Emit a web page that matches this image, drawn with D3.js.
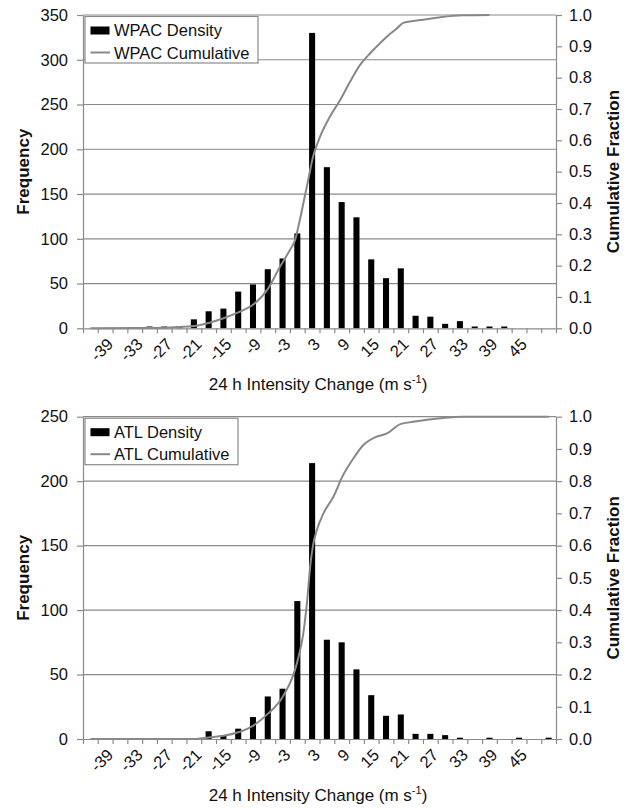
<!DOCTYPE html>
<html>
<head>
<meta charset="utf-8">
<script src="https://cdn.jsdelivr.net/npm/d3@7"></script>
<style>
  body { margin: 0; background: #fff; }
  svg { font-family: "Liberation Sans", Arial, sans-serif; }
</style>
</head>
<body>
<div id="chart"></div>
<script>
// categories (m/s bins) and labelled ticks
const categories = [-42, -39, -36, -33, -30, -27, -24, -21, -18, -15, -12, -9, -6, -3, 0, 3,
                    6, 9, 12, 15, 18, 21, 24, 27, 30, 33, 36, 39, 42, 45, 48, 51];
const xTickLabels = [-39, -33, -27, -21, -15, -9, -3, 3, 9, 15, 21, 27, 33, 39, 45];

// WPAC
const wpacDensity = [0, 0, 0, 1, 2, 2, 2, 10, 19, 22, 41, 49, 66, 78, 106, 330,
                     180, 141, 124, 77, 56, 67, 14, 13, 5, 8, 2, 2, 2, 0, 0, 0];
const wpacCumulative = [[-42, 0], [-33, 0.001], [-27, 0.002], [-24, 0.004], [-21, 0.007], [-18, 0.017],
  [-15, 0.032], [-12, 0.051], [-9, 0.075], [-6, 0.125], [-3.5, 0.197], [-1.5, 0.25], [-0.5, 0.28],
  [0.5, 0.345], [1.5, 0.42], [2.2, 0.473], [3.2, 0.548], [4.6, 0.611], [6.6, 0.675], [8.7, 0.729],
  [10.7, 0.787], [12.7, 0.84], [14.8, 0.878], [16.8, 0.91], [18.1, 0.93], [20.2, 0.957], [21.5, 0.975],
  [25, 0.984], [29, 0.993], [33.6, 0.999], [39, 1.0]];
const wpacFreqTicks = [0, 50, 100, 150, 200, 250, 300, 350];

// ATL
const atlDensity = [0, 0, 0, 0, 0, 0, 0, 0, 6, 3, 8, 17, 33, 39, 107, 214,
                    77, 75, 54, 34, 18, 19, 4, 4, 3, 1, 0, 1, 0, 1, 0, 1];
const atlCumulative = [[-42, 0], [-21, 0], [-18, 0.005], [-15, 0.01], [-12, 0.021], [-9, 0.041],
  [-6, 0.078], [-3, 0.13], [0, 0.24], [1.2, 0.326], [2, 0.43], [2.6, 0.534], [3.25, 0.606],
  [3.95, 0.648], [5.3, 0.70], [7.3, 0.751], [9.3, 0.819], [11.4, 0.871], [13.4, 0.912], [16.1, 0.938],
  [18.2, 0.948], [20.9, 0.977], [23.5, 0.984], [29, 0.995], [33.7, 1.0], [51, 1.0]];
const atlFreqTicks = [0, 50, 100, 150, 200, 250];

const fracTicks = [0, 0.1, 0.2, 0.3, 0.4, 0.5, 0.6, 0.7, 0.8, 0.9, 1.0];

const W = 627, H = 808;
const left = 83, width = 473;
const grid = "#8a8a8a";

const svg = d3.select("#chart").append("svg")
  .attr("width", W).attr("height", H);

function drawPanel(cfg) {
  const h = cfg.height;
  const g = svg.append("g").attr("transform", `translate(${left},${cfg.top})`);

  const x = d3.scaleBand().domain(categories).range([0, width])
    .paddingInner(0.59).paddingOuter(0.295);
  const xc = d3.scaleLinear()
    .domain([categories[0], categories[categories.length - 1]])
    .range([x(categories[0]) + x.bandwidth() / 2, x(categories[categories.length - 1]) + x.bandwidth() / 2]);
  const xi = d3.scaleLinear().domain([0, categories.length]).range([0, width]);
  const y = d3.scaleLinear().domain([0, cfg.yMax]).range([h, 0]);
  const y2 = d3.scaleLinear().domain([0, 1]).range([h, 0]);

  // gridlines
  g.selectAll(".grid").data(cfg.freqTicks.filter(d => d > 0)).enter()
    .append("line")
      .attr("x1", 0).attr("x2", width)
      .attr("y1", d => y(d)).attr("y2", d => y(d))
      .attr("stroke", grid).attr("stroke-width", 1.2);

  // bars
  g.selectAll(".bar").data(cfg.density).enter()
    .append("rect")
      .attr("x", (d, i) => x(categories[i]))
      .attr("width", x.bandwidth())
      .attr("y", d => y(d))
      .attr("height", d => h - y(d))
      .attr("fill", "#000");

  // cumulative line
  const line = d3.line()
    .x(d => xc(d[0]))
    .y(d => y2(d[1]))
    .curve(d3.curveMonotoneX);
  g.append("path")
    .datum(cfg.cumulative)
    .attr("fill", "none")
    .attr("stroke", "#888")
    .attr("stroke-width", 2)
    .attr("d", line);

  // left axis
  const ax = g.append("g")
    .call(d3.axisLeft(y).tickValues(cfg.freqTicks).tickSize(6).tickSizeOuter(0).tickPadding(9));
  // right axis
  const ar = g.append("g").attr("transform", `translate(${width},0)`)
    .call(d3.axisRight(y2).tickValues(fracTicks).tickFormat(d3.format(".1f"))
      .tickSize(6).tickSizeOuter(0).tickPadding(7));
  // bottom axis (ticks at bin edges)
  const ab = g.append("g").attr("transform", `translate(0,${h})`)
    .call(d3.axisBottom(xi).tickValues(d3.range(categories.length + 1)).tickFormat("")
      .tickSize(5).tickSizeOuter(0));
  // bottom labels
  const al = g.append("g").attr("transform", `translate(0,${h})`)
    .call(d3.axisBottom(x).tickValues(xTickLabels).tickSize(0));
  al.select(".domain").remove();
  al.selectAll("text")
    .attr("x", 0).attr("y", 0).attr("dy", 0)
    .attr("text-anchor", "end")
    .attr("transform", "translate(9,17) rotate(-45)");

  [ax, ar, ab].forEach(a => {
    a.selectAll(".domain, line").attr("stroke", grid).attr("stroke-width", 1.2);
  });
  [ax, ar, al].forEach(a => {
    a.selectAll("text").attr("font-size", 16.5).attr("fill", "#111")
      .attr("font-family", "Liberation Sans, Arial, sans-serif");
  });

  // axis titles
  g.append("text")
    .attr("transform", `translate(${29 - left},${h / 2}) rotate(-90)`)
    .attr("text-anchor", "middle")
    .attr("font-size", 17).attr("font-weight", "bold").attr("fill", "#111")
    .text("Frequency");
  g.append("text")
    .attr("transform", `translate(${619 - left},${h / 2}) rotate(-90)`)
    .attr("text-anchor", "middle")
    .attr("font-size", 17).attr("font-weight", "bold").attr("fill", "#111")
    .text("Cumulative Fraction");

  const xt = g.append("text")
    .attr("x", 318 - left).attr("y", h + cfg.xTitleOffset)
    .attr("text-anchor", "middle")
    .attr("font-size", 17).attr("fill", "#111");
  xt.append("tspan").text("24 h Intensity Change (m s");
  xt.append("tspan").attr("dy", -7).attr("font-size", 11).text("-1");
  xt.append("tspan").attr("dy", 7).text(")");

  // legend
  const lg = g.append("g").attr("transform", "translate(2,1.5)");
  lg.append("rect")
    .attr("width", cfg.legendWidth).attr("height", 46.5)
    .attr("fill", "#fff").attr("stroke", grid).attr("stroke-width", 1.2);
  lg.append("rect")
    .attr("x", 5.5).attr("y", 10).attr("width", 19).attr("height", 8).attr("fill", "#000");
  lg.append("text").attr("x", 29).attr("y", 19.5)
    .attr("font-size", 16.5).attr("fill", "#111").text(cfg.name + " Density");
  lg.append("line")
    .attr("x1", 5.5).attr("x2", 25).attr("y1", 36).attr("y2", 36)
    .attr("stroke", "#888").attr("stroke-width", 2);
  lg.append("text").attr("x", 29).attr("y", 42)
    .attr("font-size", 16.5).attr("fill", "#111").text(cfg.name + " Cumulative");
}

drawPanel({
  name: "WPAC", top: 15, height: 313.3, yMax: 350, freqTicks: wpacFreqTicks,
  density: wpacDensity, cumulative: wpacCumulative, legendWidth: 173, xTitleOffset: 62
});
drawPanel({
  name: "ATL", top: 416.7, height: 322.3, yMax: 250, freqTicks: atlFreqTicks,
  density: atlDensity, cumulative: atlCumulative, legendWidth: 153, xTitleOffset: 62
});
</script>
</body>
</html>
